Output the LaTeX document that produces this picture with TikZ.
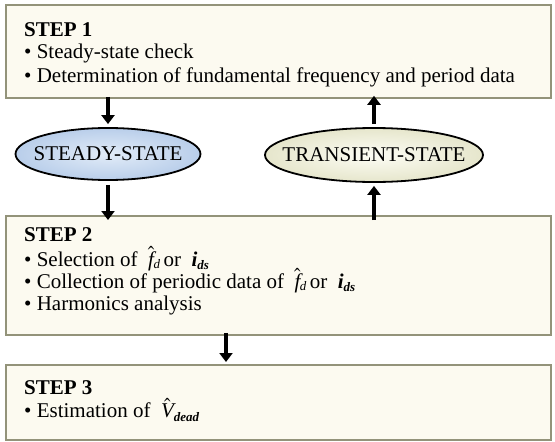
\documentclass[tikz,border=0pt]{standalone}
\usepackage{mathptmx}
\usepackage{fontspec}
\setmainfont{Liberation Serif}
\usetikzlibrary{arrows.meta,shadows,calc,shapes.geometric}
\definecolor{boxfill}{HTML}{FCFAF0}
\definecolor{boxline}{HTML}{93937A}
\definecolor{steadyin}{HTML}{E2ECF8}
\definecolor{steadyout}{HTML}{B9CEEA}
\definecolor{transin}{HTML}{FDFDF5}
\definecolor{transout}{HTML}{E6E6CC}
\newcommand\subsz{\fontsize{13}{13}\selectfont}
\newcommand\hatf{$\hat{\hbox{\itshape f}}$\kern-0.5pt\raisebox{-0.3ex}{\itshape\subsz d}}
\newcommand\ids{\textbf{\textit{i}}\raisebox{-0.4ex}{\textbf{\textit{\subsz ds}}}}
\newcommand\vdead{$\hat{\hbox{\itshape V}}$\raisebox{-0.5ex}{\textbf{\textit{\subsz dead}}}}
\newcommand\zw[1]{\makebox[0pt]{#1}}
\tikzset{
  stepbox/.style={draw=boxline, line width=1.8pt, fill=boxfill, rectangle, inner sep=0pt,
    drop shadow={shadow xshift=1.5pt, shadow yshift=-1.5pt, fill=black!45}},
  steptext/.style={anchor=base west, inner sep=0pt, font=\fontsize{21}{24}\selectfont},
  stateell/.style={ellipse, draw=black, line width=1.8pt, inner sep=0pt,
    font=\fontsize{21}{24}\selectfont},
  bigarrow/.style={line width=4pt, -{Triangle[width=13pt,length=9pt]}},
}
\begin{document}
\begin{tikzpicture}[x=1pt,y=-1pt]
\useasboundingbox (0,0) rectangle (555,442);
% boxes
\node[stepbox, minimum width=545pt, minimum height=93pt, anchor=north west] (s1) at (5,4) {};
\node[stepbox, minimum width=545pt, minimum height=119pt, anchor=north west] (s2) at (5,215) {};
\node[stepbox, minimum width=545pt, minimum height=75pt, anchor=north west] (s3) at (5,364) {};
% texts step 1
\node[steptext] (t1a) at (24,36) {\textbf{STEP 1}};
\node[steptext] (t1b) at (24,58) {\textbullet\ Steady-state check};
\node[steptext] (t1c) at (24,82) {\textbullet\ Determination of fundamental frequency and period data};
% texts step 2
\node[steptext] (t2a) at (24,241) {\textbf{STEP 2}};
\node[steptext] (t2b) at (24,266) {\textbullet\ Selection of \ \hatf\,or \ \ids};
\node[steptext] (t2c) at (24,288) {\textbullet\ Collection of periodic data of \ \hatf\,or \ \ids};
\node[steptext] (t2d) at (24,310) {\textbullet\ Harmonics analysis};
% texts step 3
\node[steptext] (t3a) at (24,394) {\textbf{STEP 3}};
\node[steptext] (t3b) at (24,417) {\textbullet\ Estimation of \ \vdead};
% ellipses
\node[stateell, minimum width=185pt, minimum height=52pt, inner color=steadyin, outer color=steadyout] (st) at (108,154) {\zw{STEADY-STATE}};
\node[stateell, minimum width=218pt, minimum height=54pt, inner color=transin, outer color=transout] (tr) at (374,155) {\zw{TRANSIENT-STATE}};
% arrows
\draw[bigarrow] ([yshift=2pt]s1.south -| st.north) -- ([yshift=3pt]st.north);
\draw[bigarrow] ([yshift=-4pt]st.south) -- ([yshift=-5pt]s2.north -| st.south);
\draw[bigarrow] ([yshift=-5pt]s2.north -| tr.south) -- ([yshift=-3pt]tr.south);
\draw[bigarrow] ([yshift=3pt]tr.north) -- ([yshift=3pt]s1.south -| tr.north);
\coordinate (a3) at (226,0);
\draw[bigarrow] ([yshift=3pt]s2.south -| a3) -- ([yshift=2pt]s3.north -| a3);
\end{tikzpicture}
\end{document}
